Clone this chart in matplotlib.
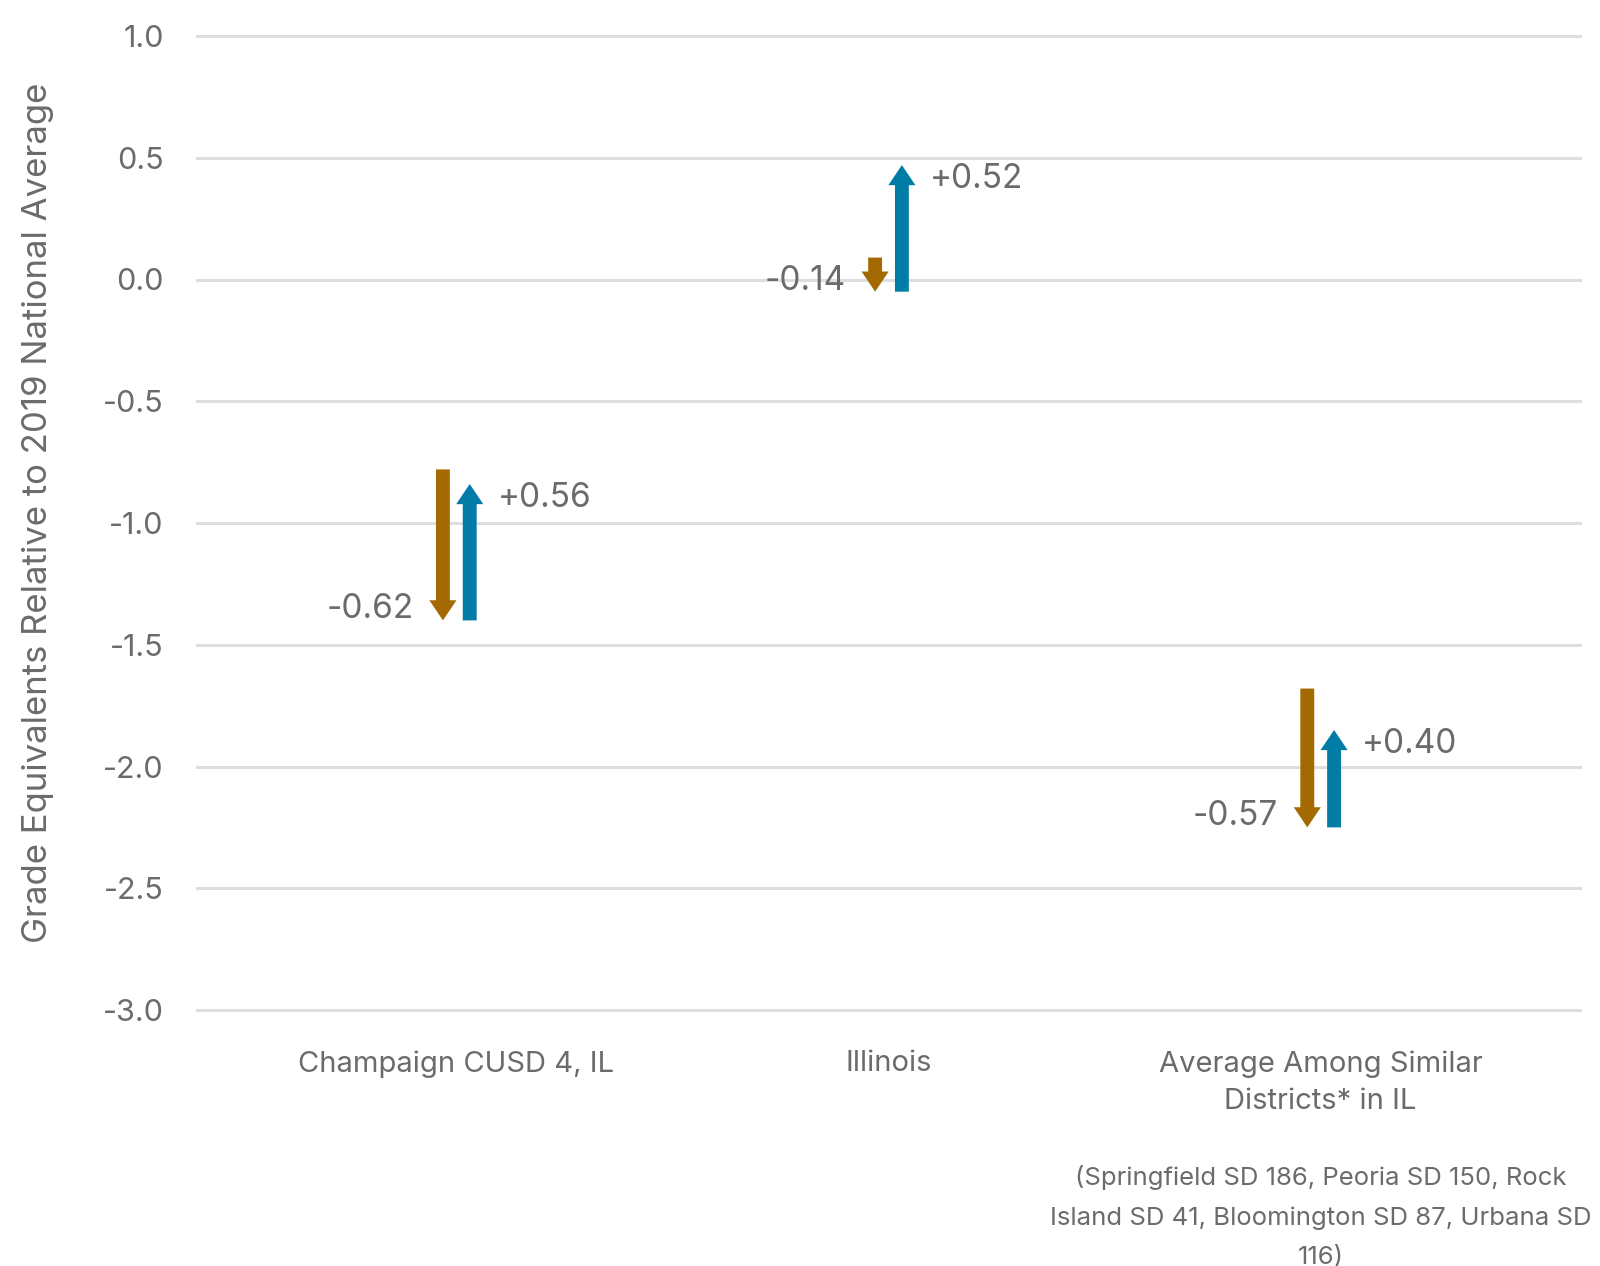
import matplotlib.pyplot as plt
import matplotlib.transforms as mtransforms

plt.rcParams["font.family"] = ["Inter", "DejaVu Sans"]

# data
categories = ["Champaign CUSD 4, IL", "Illinois", "Average Among Similar\nDistricts* in IL"]
score_2019 = [-0.78, 0.09, -1.68]
score_2022 = [-1.40, -0.05, -2.25]
score_2023 = [-0.84, 0.47, -1.85]
drop_labels = ["-0.62", "-0.14", "-0.57"]
gain_labels = ["+0.56", "+0.52", "+0.40"]
y_ticks = [1.0, 0.5, 0.0, -0.5, -1.0, -1.5, -2.0, -2.5, -3.0]
footnote = "(Springfield SD 186, Peoria SD 150, Rock\nIsland SD 41, Bloomington SD 87, Urbana SD\n116)"

brown = "#A46900"
blue = "#007CA6"
gray = "#6B6B6B"
grid_col = "#DEDEDE"

fig = plt.figure(figsize=(16, 12.66), dpi=100)
ax = fig.add_axes([197 / 1600, 1 - 1010 / 1266, 1383 / 1600, 974 / 1266])

ax.set_xlim(-0.6, 2.6)
ax.set_ylim(-3.0, 1.0)

for y in y_ticks:
    ax.axhline(y, color=grid_col, lw=2.2, zorder=0, clip_on=False)

off = 0.031
arrow_style = "simple,head_length=1.45,head_width=1.95,tail_width=1.0"
for i in range(len(categories)):
    # decline 2019 -> 2022
    ax.annotate("", xy=(i - off, score_2022[i]), xytext=(i - off, score_2019[i]),
                arrowprops=dict(arrowstyle=arrow_style, color=brown, mutation_scale=10,
                                shrinkA=0, shrinkB=0, lw=0))
    # recovery 2022 -> 2023
    ax.annotate("", xy=(i + off, score_2023[i]), xytext=(i + off, score_2022[i]),
                arrowprops=dict(arrowstyle=arrow_style, color=blue, mutation_scale=10,
                                shrinkA=0, shrinkB=0, lw=0))
    ax.annotate(drop_labels[i], xy=(i - off, score_2022[i]), xytext=(-21, 8),
                textcoords="offset points", ha="right", va="center",
                fontsize=24, color=gray)
    ax.annotate(gain_labels[i], xy=(i + off, score_2023[i]), xytext=(20, -10),
                textcoords="offset points", ha="left", va="center",
                fontsize=24, color=gray)

ax.set_yticks(y_ticks)
ax.set_yticklabels([f"{v:.1f}" for v in y_ticks])
ax.set_xticks(range(len(categories)))
ax.set_xticklabels(categories, linespacing=1.5)
ax.tick_params(axis="y", length=0, pad=24, labelsize=22, labelcolor=gray)
ax.tick_params(axis="x", length=0, pad=29, labelsize=21, labelcolor=gray)

for s in ax.spines.values():
    s.set_visible(False)

fig.text(0.024, 0.595, "Grade Equivalents Relative to 2019 National Average",
         rotation=90, ha="center", va="center", fontsize=25, color=gray)

# footnote under the third category
foot_tr = mtransforms.blended_transform_factory(ax.transData, fig.transFigure)
ax.text(2.0, 1 - 1217 / 1266, footnote, transform=foot_tr,
        ha="center", va="center", fontsize=18.5, color=gray, linespacing=1.88)

plt.savefig("out.png", dpi=100)
